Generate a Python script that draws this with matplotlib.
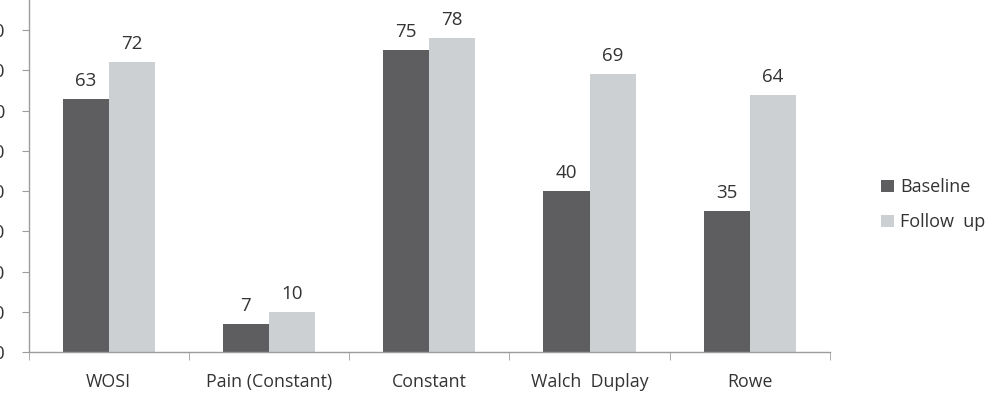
import matplotlib
matplotlib.use("Agg")
import matplotlib.pyplot as plt
import numpy as np

categories = ["WOSI", "Pain (Constant)", "Constant", "Walch  Duplay", "Rowe"]
baseline = [63, 7, 75, 40, 35]
follow_up = [72, 10, 78, 69, 64]
series_names = ["Baseline", "Follow  up"]
yticks = [0, 10, 20, 30, 40, 50, 60, 70, 80, 90]

plt.rcParams['font.family'] = ['Open Sans', 'DejaVu Sans']

dark = "#5e5e61"
light = "#cdd0d2"
axis_col = "#9c9c9c"
text_col = "#333333"

fig = plt.figure(figsize=(9.89, 3.96), dpi=100)
ax = fig.add_axes([28.5/989, 44/396, 801.5/989, 362/396])

x = np.arange(len(categories))
w = 0.2875
b1 = ax.bar(x - w/2, baseline, w, color=dark, label=series_names[0])
b2 = ax.bar(x + w/2, follow_up, w, color=light, label=series_names[1])

for bars, vals in ((b1, baseline), (b2, follow_up)):
    for r, v in zip(bars, vals):
        ax.annotate(str(v), (r.get_x() + r.get_width()/2, v), xytext=(0, 9),
                    textcoords="offset pixels", ha="center", va="bottom",
                    fontsize=13.5, color=text_col)

ax.set_xlim(-0.5, len(categories) - 0.5)
ax.set_ylim(0, 90)
ax.set_yticks(yticks)
ax.set_xticks(x)
ax.set_xticklabels(categories, fontsize=12.8, color=text_col)
ax.set_xticks(np.arange(len(categories) + 1) - 0.5, minor=True)
ax.tick_params(axis='x', which='major', length=0, pad=15)
ax.tick_params(axis='x', which='minor', length=6, color=axis_col, direction='out')
ax.tick_params(axis='y', length=5, color=axis_col, direction='out', pad=12,
               labelsize=13.5, labelcolor=text_col)

for s in ("top", "right"):
    ax.spines[s].set_visible(False)
for s in ("left", "bottom"):
    ax.spines[s].set_color(axis_col)
    ax.spines[s].set_linewidth(1.0)

leg = fig.legend(handles=[b1, b2], labels=series_names, loc="upper left",
                 bbox_to_anchor=(865/989, 1 - 162/396), frameon=False,
                 fontsize=13, handlelength=0.7, handleheight=0.7,
                 handletextpad=0.35, labelspacing=0.95, labelcolor=text_col)

fig.savefig("out.png", dpi=100)
